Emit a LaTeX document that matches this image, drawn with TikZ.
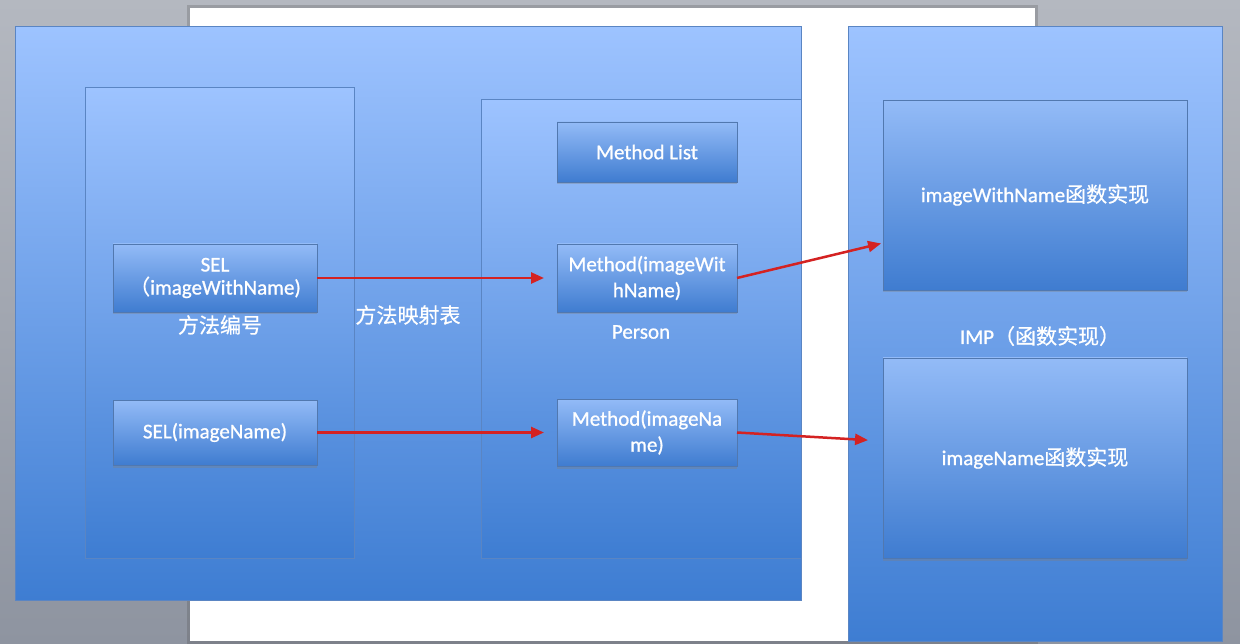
\documentclass[tikz,border=0pt]{standalone}
\usepackage{fontspec}
\setmainfont[FakeBold=0.9]{Carlito}
\newfontfamily\cjk[FakeBold=0.6]{Noto Sans CJK SC}
\usetikzlibrary{arrows.meta,shadows}
\definecolor{bgtop}{HTML}{B4B8C0}
\definecolor{bgbot}{HTML}{8E94A0}
\definecolor{boxtop}{HTML}{9DC3FF}
\definecolor{boxbot}{HTML}{3E7DD2}
\definecolor{sbtop}{HTML}{93BBF7}
\definecolor{sbbot}{HTML}{3F7CD0}
\definecolor{edge}{HTML}{5A85C3}
\definecolor{arrowred}{HTML}{D42222}
\tikzset{
  panel/.style={draw=edge, line width=1pt, top color=boxtop, bottom color=boxbot,
    anchor=north west, inner sep=0pt, outer sep=0pt},
  smallbox/.style={draw=edge!90!black, line width=0.8pt, top color=sbtop, bottom color=sbbot,
    inner sep=0pt, outer sep=0pt, text=white, align=center,
    font=\fontsize{21}{26}\selectfont,
    drop shadow={opacity=0.35, shadow xshift=0pt, shadow yshift=-2.5pt}},
  lbl/.style={text=white, font=\fontsize{21}{26}\selectfont, inner sep=0pt},
  redarrow/.style={draw=arrowred, line width=2.5pt, -{Triangle[length=13pt, width=11pt]}}
}
\begin{document}
\begin{tikzpicture}[x=1pt, y=-1pt]
\useasboundingbox (0,0) rectangle (1240,644);
\shade[top color=bgtop, bottom color=bgbot] (0,0) rectangle (1240,644);
% white page
\fill[gray!60!black, opacity=0.25] (187,5) rectangle (1038,644);
\fill[white] (190,8) rectangle (1035,641);
% big panels
\node[panel, minimum width=374pt, minimum height=614pt] (R) at (848,27) {};
\node[panel, minimum width=786pt, minimum height=573pt] (L) at (15,27) {};
\node[panel, minimum width=269pt, minimum height=470pt] (C1) at (85,88) {};
\node[panel, minimum width=320pt, minimum height=458pt] (C2) at (481,100) {};
% small boxes
\node[smallbox, minimum width=204pt, minimum height=68pt] (S1) at (215,278) {\raisebox{-3pt}{SEL}\\{\cjk （}imageWithName)};
\node[smallbox, minimum width=204pt, minimum height=65pt] (S2) at (215,432.5) {SEL(imageName)};
\node[smallbox, minimum width=180pt, minimum height=60pt] (ML) at (647,152) {Method List};
\node[smallbox, minimum width=180pt, minimum height=68pt] (M1) at (647,278) {Method(imageWit\\hName)};
\node[smallbox, minimum width=180pt, minimum height=67pt] (M2) at (647,432.5) {Method(imageNa\\me)};
\node[smallbox, minimum width=304pt, minimum height=190pt] (I1) at (1035,195) {imageWithName{\cjk 函数实现}};
\node[smallbox, minimum width=304pt, minimum height=200pt] (I2) at (1035,458) {imageName{\cjk 函数实现}};
% labels
\node[lbl] (t1) at (220,325) {\cjk 方法编号};
\node[lbl] (t2) at (408,315) {\cjk 方法映射表};
\node[lbl] (t3) at (641,332) {Person};
\node[lbl] (t4) at (1040,336) {IMP{\cjk （函数实现）}};
% arrows
\coordinate (e1) at ([yshift=-48pt]I1.west);
\coordinate (e2) at ([yshift=17pt]I2.west);
\draw[redarrow, shorten >=13pt] (S1.east) -- (M1.west);
\draw[redarrow, shorten >=13pt] (S2.east) -- (M2.west);
\draw[redarrow, shorten >=2pt] (M1.east) -- (e1);
\draw[redarrow, shorten >=15pt] (M2.east) -- (e2);
\end{tikzpicture}
\end{document}
